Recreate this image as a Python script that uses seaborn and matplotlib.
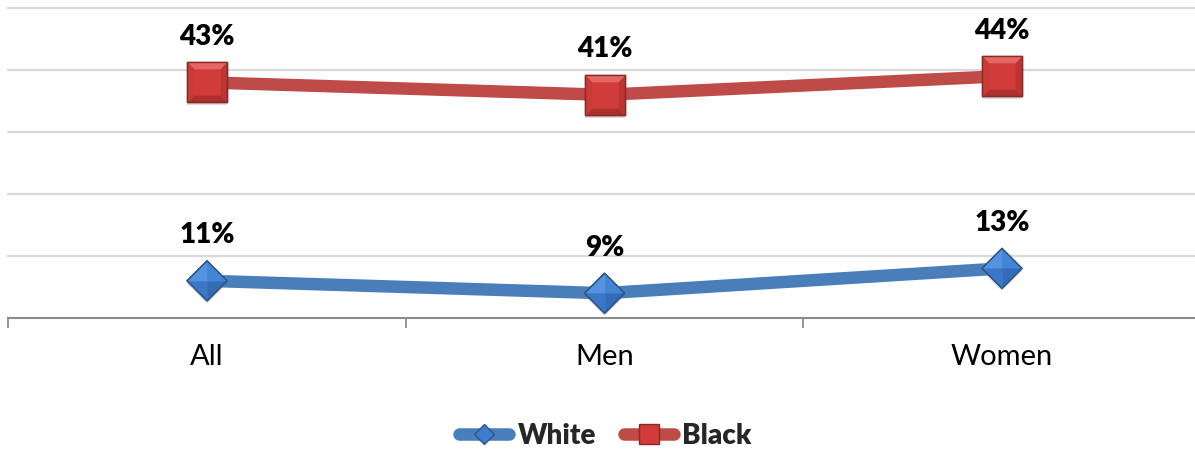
import matplotlib
matplotlib.use("Agg")
import matplotlib.pyplot as plt
import matplotlib.patheffects as pe
import pandas as pd
import seaborn as sns
from matplotlib.lines import Line2D
from matplotlib.path import Path

# Share of each group by sex
categories = ["All", "Men", "Women"]
series = ["White", "Black"]
white_values = [11, 9, 13]
black_values = [43, 41, 44]

line_colors = {"White": "#4A7EBB", "Black": "#BE4B48"}
face_colors = {"White": "#3D7DD0", "Black": "#D13B3A"}
edge_colors = {"White": "#2F5487", "Black": "#872B29"}

df = pd.DataFrame({
    "pos": list(range(len(categories))) * 2,
    "group": [series[0]] * len(categories) + [series[1]] * len(categories),
    "value": white_values + black_values,
})

sns.set_theme(style="white")
plt.rcParams["font.family"] = ["Lato", "DejaVu Sans"]

W, H = 1195, 451
fig = plt.figure(figsize=(W / 100, H / 100), dpi=100)
left, right, top, bottom = 8.25, 1200.75, 8, 318
ax = fig.add_axes([left / W, (H - bottom) / H, (right - left) / W, (bottom - top) / H])

sns.lineplot(data=df, x="pos", y="value", hue="group", hue_order=series,
             palette=line_colors, lw=9, legend=False, ax=ax, zorder=3,
             solid_joinstyle="round")


def poly(*pts):
    return Path(list(pts) + [pts[0]], closed=True)


# bevelled marker shapes: outline plus shaded faces
square = poly((-0.5, -0.5), (0.5, -0.5), (0.5, 0.5), (-0.5, 0.5))
sq_faces = [
    (poly((-0.5, 0.5), (0.5, 0.5), (0.33, 0.33), (-0.33, 0.33)), "#E8706C"),
    (poly((-0.5, -0.5), (0.5, -0.5), (0.33, -0.33), (-0.33, -0.33)), "#A82F2D"),
    (poly((-0.5, -0.5), (-0.5, 0.5), (-0.33, 0.33), (-0.33, -0.33)), "#C93B38"),
    (poly((0.5, -0.5), (0.5, 0.5), (0.33, 0.33), (0.33, -0.33)), "#B83432"),
]
diamond = poly((0, 0.5), (0.5, 0), (0, -0.5), (-0.5, 0))
dm_faces = [
    (poly((-0.5, 0), (0, 0.5), (0, 0)), "#5A97E2"),
    (poly((0, 0.5), (0.5, 0), (0, 0)), "#4686D6"),
    (poly((0.5, 0), (0, -0.5), (0, 0)), "#3369B4"),
    (poly((0, -0.5), (-0.5, 0), (0, 0)), "#3C76C6"),
]
shapes = {"White": (diamond, dm_faces, 40 * 0.72), "Black": (square, sq_faces, 40 * 0.72)}

shadow = [pe.SimplePatchShadow(offset=(0, -2), shadow_rgbFace="#777777", alpha=0.25),
          pe.Normal()]
for name in series:
    sub = df[df["group"] == name]
    outline, faces, ms = shapes[name]
    ax.scatter(sub["pos"], sub["value"], marker=outline, s=ms ** 2,
               color=face_colors[name], edgecolors=edge_colors[name],
               linewidths=1.0, zorder=4, path_effects=shadow)
    for path, col in faces:
        ax.scatter(sub["pos"], sub["value"], marker=path, s=ms ** 2, color=col,
                   linewidths=0, zorder=5, alpha=0.85)
    ax.scatter(sub["pos"], sub["value"], marker=outline, s=ms ** 2,
               facecolors="none", edgecolors=edge_colors[name], linewidths=1.0,
               zorder=6)

# value labels above every marker
for name, vals in zip(series, [white_values, black_values]):
    for i, v in enumerate(vals):
        ax.annotate(f"{v}%", (i, v), xytext=(0, 27), textcoords="offset points",
                    ha="center", va="baseline", fontsize=20, fontweight="heavy",
                    color="black")

ax.set_xlim(-0.5, len(categories) - 0.5)
ax.set_ylim(5, 55)
ax.set_yticks([15, 25, 35, 45, 55])
ax.set_yticklabels([])
ax.tick_params(axis="y", length=0)
ax.yaxis.grid(True, color="#D9D9D9", lw=1.6)
for gl in ax.get_ygridlines():
    gl.set_clip_on(False)
ax.set_axisbelow(True)

ax.set_xticks(range(len(categories)))
ax.set_xticklabels(categories, fontsize=21)
ax.set_xticks([i - 0.5 for i in range(len(categories) + 1)], minor=True)
ax.tick_params(axis="x", which="major", length=0, pad=19, colors="black")
ax.tick_params(axis="x", which="minor", length=7.5, width=1.3, color="#8C8C8C",
               direction="out", bottom=True)
ax.set_xlabel("")
ax.set_ylabel("")

for s in ["left", "right", "top"]:
    ax.spines[s].set_visible(False)
ax.spines["bottom"].set_color("#8C8C8C")
ax.spines["bottom"].set_linewidth(1.5)

handles = [
    Line2D([], [], color=line_colors[n], lw=9, solid_capstyle="round",
           marker="D" if n == "White" else "s",
           markersize=10 if n == "White" else 14,
           markerfacecolor=face_colors[n], markeredgecolor=edge_colors[n],
           markeredgewidth=1.0)
    for n in series
]
fig.legend(handles, series, loc="center", bbox_to_anchor=(605.5 / W, 1 - 436 / H),
           ncol=2, frameon=False, prop={"weight": "heavy", "size": 20},
           handlelength=1.8, handletextpad=0.3, columnspacing=1.0)

fig.savefig("out.png", dpi=100)
